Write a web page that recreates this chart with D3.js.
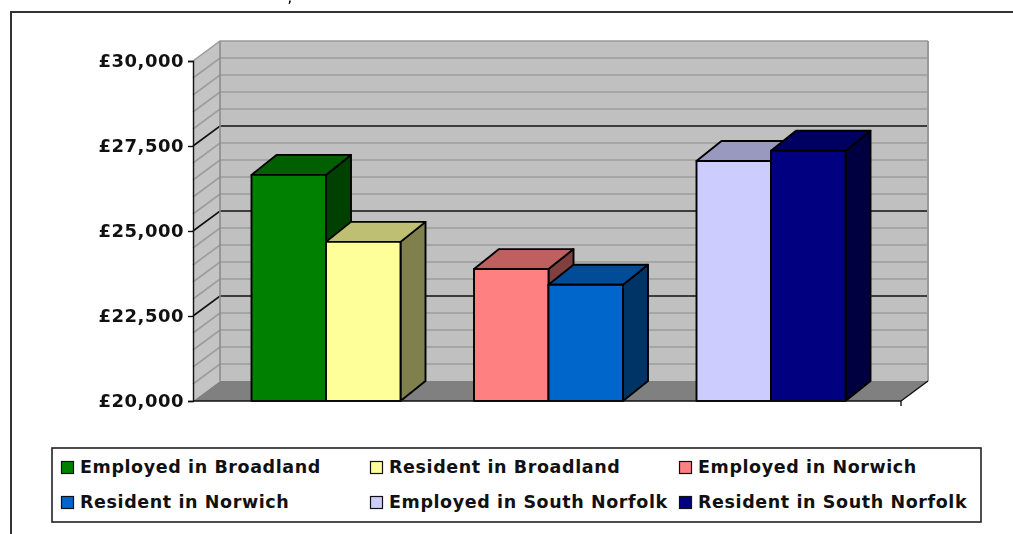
<!DOCTYPE html>
<html><head><meta charset="utf-8">
<script src="https://cdn.jsdelivr.net/npm/d3@7"></script>
<style>html,body{margin:0;padding:0;background:#fff;overflow:hidden}svg{display:block;filter:blur(0.45px)}text{font-family:"DejaVu Sans",sans-serif;font-weight:bold;fill:#111}</style>
</head><body><svg id="c" width="1013" height="534"></svg>
<script>
const areas = ["Broadland","Norwich","South Norfolk"];
const kinds = ["Employed","Resident"];
const employed = [26650,23880,27060];
const resident = [24680,23420,27360];
const frontColors = [["#008000","#FFFF99"],["#FF8080","#0066CC"],["#CCCCFF","#000080"]];
const topColors = [["#006000","#BFBF73"],["#BF6060","#004C99"],["#9999BF","#000060"]];
const sideColors = [["#004000","#80804D"],["#804040","#003366"],["#666680","#000040"]];
const majorTicks = [20000,22500,25000,27500,30000];
const minorTicks = d3.range(20000,30001,500);

const svg = d3.select("#c");
const y = d3.scaleLinear().domain([20000,30000]).range([401,61]);
const depth = {x:27,y:20}, barDepth = {x:25,y:20};
const xAxisRange = [193,901];
const group = d3.scalePoint().domain(areas).range([326,771]);
const pair = d3.scaleBand().domain(kinds).range([-74.5,74.5]);

// frame
svg.append("path").attr("d","M11,534V12H1013").attr("fill","none").attr("stroke","#333").attr("stroke-width",2);
svg.append("text").attr("x",288).attr("y",2).style("font-size","10px").text(",");

// walls
const [x0,x1]=xAxisRange, yB=y(20000), yT=y(30000);
svg.append("polygon").attr("points",[[x0,yT],[x0+depth.x,yT-depth.y],[x0+depth.x,yB-depth.y],[x0,yB]].join(" "))
  .attr("fill","#c4c4c4");
svg.append("polygon").attr("points",[[x0+depth.x,yT-depth.y],[x1+depth.x,yT-depth.y],[x1+depth.x,yB-depth.y],[x0+depth.x,yB-depth.y]].join(" "))
  .attr("fill","#c0c0c0");
svg.append("polygon").attr("points",[[x0,yB],[x0+depth.x,yB-depth.y],[x1+depth.x,yB-depth.y],[x1,yB]].join(" "))
  .attr("fill","#808080");

const grid = svg.append("g").attr("fill","none");
function gridLine(v,color,w){
  grid.append("path").attr("d",`M${x0},${y(v)}L${x0+depth.x},${y(v)-depth.y}H${x1+depth.x}`)
    .attr("stroke",color).attr("stroke-width",w);
}
minorTicks.filter(v=>v>20000 && !majorTicks.includes(v)).forEach(v=>gridLine(v,"#9c9c9c",1.6));
gridLine(30000,"#999",1.4);
majorTicks.filter(v=>v>20000&&v<30000).forEach(v=>gridLine(v,"#111",1.6));
svg.append("path").attr("d",`M${x0+depth.x},${yT-depth.y}V${yB-depth.y}`).attr("stroke","#8c8c8c").attr("stroke-width",1.6);
svg.append("path").attr("d",`M${x1+depth.x},${yT-depth.y}V${yB-depth.y}`).attr("stroke","#999").attr("stroke-width",2);

// bars
const bars = [];
areas.forEach((a,i)=>kinds.forEach((k,j)=>bars.push({
  a,k,v:(j?resident:employed)[i],front:frontColors[i][j],top:topColors[i][j],side:sideColors[i][j]
})));
const bg = svg.append("g").attr("stroke","#000").attr("stroke-width",1.9).attr("stroke-linejoin","round");
bars.forEach(b=>{
  const l=group(b.a)+pair(b.k), r=l+pair.bandwidth(), t=y(b.v), f=y(20000), dx=barDepth.x, dy=barDepth.y;
  bg.append("polygon").attr("points",[[r,f],[r+dx,f-dy],[r+dx,t-dy],[r,t]].join(" ")).attr("fill",b.side);
  bg.append("polygon").attr("points",[[l,t],[l+dx,t-dy],[r+dx,t-dy],[r,t]].join(" ")).attr("fill",b.top);
  bg.append("rect").attr("x",l).attr("y",t).attr("width",r-l).attr("height",f-t).attr("fill",b.front);
});

// axes
const yAxis = d3.axisLeft(y).tickValues(majorTicks).tickSize(5).tickPadding(4).tickFormat(d=>"£"+d3.format(",")(d));
const ag = svg.append("g").attr("transform",`translate(${x0},0)`).call(yAxis);
ag.selectAll("path,line").attr("stroke","#111").attr("stroke-width",1.4);
ag.selectAll("text").style("font-size","18px").style("letter-spacing","0.5px").attr("fill","#111");
svg.append("path").attr("d",`M${x0},${yB}H${x1}M${x1},${yB+5}V${yB}L${x1+depth.x},${yB-depth.y}`)
  .attr("fill","none").attr("stroke","#111").attr("stroke-width",1.4);

// legend
svg.append("rect").attr("x",52).attr("y",448).attr("width",929).attr("height",74).attr("fill","#fff").attr("stroke","#222").attr("stroke-width",1.6);
const legX=[61,370,679], legY=[461,496];
bars.forEach((b,i)=>{
  const lx=legX[i%3], ly=legY[Math.floor(i/3)];
  svg.append("rect").attr("x",lx+.5).attr("y",ly+.5).attr("width",12).attr("height",12).attr("fill",b.front).attr("stroke","#111").attr("stroke-width",1.2);
  svg.append("text").attr("x",lx+19).attr("y",ly+12).style("font-size","17.5px").style("letter-spacing","0.6px").text(`${b.k} in ${b.a}`);
});
</script></body></html>
